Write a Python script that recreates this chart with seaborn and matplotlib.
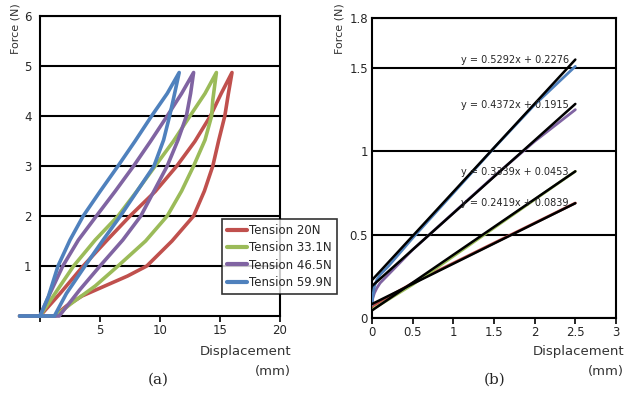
import numpy as np
import pandas as pd
import matplotlib
matplotlib.use("Agg")
import matplotlib.pyplot as plt
import seaborn as sns

sns.set_style("white")
plt.rcParams["font.family"] = ["DejaVu Sans"]

# ---- data: (a) hysteresis loops, force (N) vs displacement (mm) ----
tensions = ["Tension 20N", "Tension 33.1N", "Tension 46.5N", "Tension 59.9N"]
colors = ["#C0504D", "#9BBB59", "#8064A2", "#4F81BD"]

# loading branch (origin -> peak)
load_disp = {
    "Tension 20N":   [0.0, 1.67, 3.6, 5.6, 7.5, 9.6, 11.4, 12.9, 14.2, 15.1, 16.0],
    "Tension 33.1N": [0.0, 1.25, 2.8, 4.6, 6.5, 8.05, 9.6, 11.1, 12.5, 13.75, 14.7],
    "Tension 46.5N": [0.0, 0.83, 1.9, 3.2, 4.7, 6.25, 7.8, 9.2, 10.6, 11.8, 12.8],
    "Tension 59.9N": [0.0, 0.7, 1.5, 2.5, 3.6, 5.0, 6.5, 7.9, 9.3, 10.6, 11.6],
}
load_force = {
    "Tension 20N":   [0.0, 0.45, 1.0, 1.52, 2.0, 2.49, 3.0, 3.49, 4.0, 4.45, 4.87],
    "Tension 33.1N": [0.0, 0.45, 1.0, 1.52, 2.0, 2.49, 3.0, 3.49, 4.0, 4.45, 4.87],
    "Tension 46.5N": [0.0, 0.45, 1.0, 1.52, 2.0, 2.49, 3.0, 3.49, 4.0, 4.45, 4.87],
    "Tension 59.9N": [0.0, 0.39, 1.0, 1.52, 2.0, 2.49, 3.0, 3.49, 4.0, 4.45, 4.87],
}
# unloading branch (peak -> back to zero, then the flat lead-in at zero force)
unload_disp = {
    "Tension 20N":   [15.7, 15.4, 14.9, 14.4, 13.7, 12.8, 11.0, 8.9, 7.3, 5.4, 3.5, 2.2, 1.2, -1.7],
    "Tension 33.1N": [14.4, 14.3, 13.75, 12.8, 11.8, 10.6, 8.8, 6.5, 4.6, 2.6, 1.3, -1.7],
    "Tension 46.5N": [12.55, 12.2, 11.5, 10.6, 9.5, 8.4, 6.9, 5.0, 3.3, 1.6, -1.7],
    "Tension 59.9N": [11.1, 10.8, 10.3, 9.5, 8.1, 6.7, 5.2, 3.75, 2.2, 1.2, -1.7],
}
unload_force = {
    "Tension 20N":   [4.45, 4.0, 3.52, 3.0, 2.5, 2.0, 1.5, 1.0, 0.8, 0.6, 0.4, 0.2, 0.0, 0.0],
    "Tension 33.1N": [4.32, 4.0, 3.52, 3.0, 2.5, 2.0, 1.5, 1.0, 0.6, 0.25, 0.0, 0.0],
    "Tension 46.5N": [4.45, 4.0, 3.52, 3.0, 2.5, 2.0, 1.52, 1.0, 0.52, 0.0, 0.0],
    "Tension 59.9N": [4.32, 4.0, 3.52, 3.0, 2.5, 2.0, 1.5, 1.0, 0.45, 0.0, 0.0],
}

# ---- data: (b) initial linear region with fitted trend lines ----
disp_b = {
    "Tension 20N":   [0, 0.5, 1.0, 1.5, 2.0, 2.5],
    "Tension 33.1N": [0, 0.5, 1.0, 1.5, 2.0, 2.5],
    "Tension 46.5N": [0, 0.01, 0.03, 0.06, 0.1, 0.2, 0.5, 1.0, 1.5, 2.0, 2.5],
    "Tension 59.9N": [0, 0.01, 0.03, 0.06, 0.1, 0.2, 0.5, 1.0, 1.5, 2.0, 2.5],
}
force_b = {
    "Tension 20N":   [0.07, 0.21, 0.33, 0.45, 0.57, 0.69],
    "Tension 33.1N": [0.05, 0.20, 0.37, 0.54, 0.71, 0.88],
    "Tension 46.5N": [0.08, 0.12, 0.15, 0.18, 0.21, 0.26, 0.41, 0.63, 0.85, 1.06, 1.25],
    "Tension 59.9N": [0.08, 0.13, 0.19, 0.23, 0.26, 0.31, 0.48, 0.75, 1.02, 1.28, 1.51],
}
slopes = [0.2419, 0.3339, 0.4372, 0.5292]
intercepts = [0.0839, 0.0453, 0.1915, 0.2276]
eq_y = [0.69, 0.876, 1.28, 1.55]
fit_range = [0.0, 2.5]

# long-format tables
rows = []
for t in tensions:
    for x, f in zip(load_disp[t] + unload_disp[t], load_force[t] + unload_force[t]):
        rows.append((t, x, f))
df_a = pd.DataFrame(rows, columns=["tension", "disp", "force"])

rows = []
for t in tensions:
    for x, f in zip(disp_b[t], force_b[t]):
        rows.append((t, x, f))
df_b = pd.DataFrame(rows, columns=["tension", "disp", "force"])

palette = dict(zip(tensions, colors))

fig = plt.figure(figsize=(6.39, 3.95), dpi=100)
ax1 = fig.add_axes([40 / 639, 1 - 316 / 395, 240 / 639, 300 / 395])
ax2 = fig.add_axes([372 / 639, 1 - 318 / 395, 244 / 639, 300 / 395])

# ---- panel (a) ----
sns.lineplot(data=df_a, x="disp", y="force", hue="tension", palette=palette,
             sort=False, estimator=None, lw=2.6, ax=ax1, clip_on=False,
             solid_capstyle="round", solid_joinstyle="round", zorder=3)
ax1.set_xlim(0, 20)
ax1.set_ylim(0, 6)
ax1.set_xticks([0, 5, 10, 15, 20])
ax1.set_xticklabels(["", "5", "10", "15", "20"])
ax1.set_yticks([1, 2, 3, 4, 5, 6])
ax1.set_xlabel("")
ax1.set_ylabel("")
ax1.legend(loc="upper left", bbox_to_anchor=(222 / 639, 1 - 219 / 395),
           bbox_transform=fig.transFigure, frameon=True, fancybox=False,
           edgecolor="black", fontsize=8.5, handlelength=1.7, handletextpad=0.1,
           borderpad=0.45, labelspacing=0.35, borderaxespad=0)
ax1.get_legend().get_frame().set_linewidth(1.2)
for line in ax1.get_legend().get_lines():
    line.set_linewidth(3)

# ---- panel (b) ----
sns.lineplot(data=df_b, x="disp", y="force", hue="tension", palette=palette,
             sort=False, estimator=None, lw=2.0, ax=ax2, legend=False, zorder=3)
for m, b, ty in zip(slopes, intercepts, eq_y):
    xs = np.array(fit_range)
    ax2.plot(xs, m * xs + b, color="black", lw=1.8, zorder=4)
    ax2.text(2.42, ty, f"y = {m:.4f}x + {b:.4f}", fontsize=7, ha="right",
             va="center", zorder=5)
ax2.set_xlim(0, 3)
ax2.set_ylim(0, 1.8)
ax2.set_xticks([0, 0.5, 1, 1.5, 2, 2.5, 3])
ax2.set_xticklabels(["0", "0.5", "1", "1.5", "2", "2.5", "3"])
ax2.set_yticks([0, 0.5, 1, 1.5, 1.8])
ax2.set_yticklabels(["0", "0.5", "1", "1.5", "1.8"])
ax2.set_xlabel("")
ax2.set_ylabel("")

for ax, ypad in ((ax1, 6), (ax2, 3)):
    ax.yaxis.grid(True, color="black", lw=1.5)
    ax.set_axisbelow(True)
    for s in ax.spines.values():
        s.set_visible(True)
        s.set_color("black")
        s.set_linewidth(1.5)
    ax.tick_params(axis="x", direction="out", length=4, width=1.2,
                   color="black", labelsize=8.5, pad=2, bottom=True)
    ax.tick_params(axis="y", length=0, labelsize=8.5, pad=ypad)

# axis titles placed like the original
for xr, xl in ((291, 15), (624, 340)):
    fig.text(xr / 639, 1 - 352 / 395, "Displacement", ha="right", va="center",
             fontsize=9.5, color="#333333")
    fig.text(xr / 639, 1 - 372 / 395, "(mm)", ha="right", va="center",
             fontsize=9.5, color="#333333")
    fig.text(xl / 639, 1 - 3 / 395, "Force (N)", rotation=90, ha="center",
             va="top", fontsize=8, color="#333333")

fig.text(158 / 639, 1 - 380 / 395, "(a)", ha="center", va="center",
         fontsize=11, family="DejaVu Serif")
fig.text(495 / 639, 1 - 380 / 395, "(b)", ha="center", va="center",
         fontsize=11, family="DejaVu Serif")

fig.savefig("out.png", dpi=100)
